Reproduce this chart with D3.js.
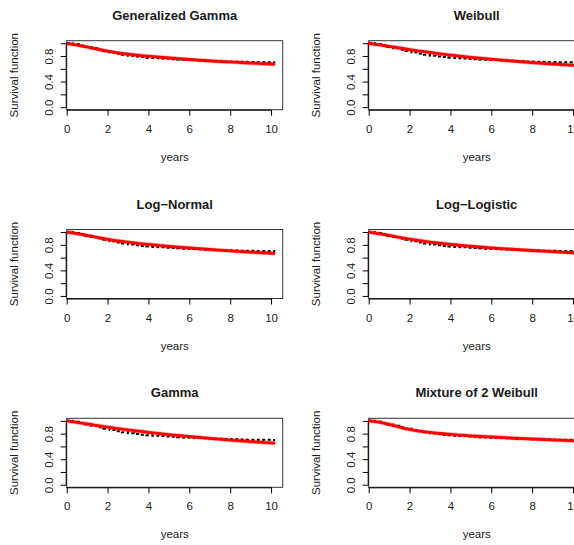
<!DOCTYPE html>
<html>
<head>
<meta charset="utf-8">
<script src="https://cdn.jsdelivr.net/npm/d3@7"></script>
<style>
  html, body { margin: 0; padding: 0; background: #fff; }
  svg { display: block; }
  text { font-family: "Liberation Sans", Arial, Helvetica, sans-serif; fill: #1a1a1a; }
</style>
</head>
<body>
<svg id="chart" width="574" height="545"></svg>
<script>
// ---- data ----
const modelTitles = ["Generalized Gamma", "Weibull", "Log\u2212Normal", "Log\u2212Logistic", "Gamma", "Mixture of 2 Weibull"];

// Kaplan-Meier estimate (black dashed step curve)
const kmTimes = [0, 0.3, 0.6, 0.9, 1.2, 1.5, 1.8, 2.1, 2.4, 2.7, 3.0, 3.3, 3.6, 3.9, 4.2, 4.5, 4.8, 5.1, 5.4, 5.7, 6.0, 6.4, 6.8, 7.2, 7.6, 8.0, 8.4, 8.8, 9.2, 9.6, 10.0, 10.2];
const kmSurv  = [1.0, 0.985, 0.965, 0.943, 0.922, 0.900, 0.878, 0.855, 0.837, 0.820, 0.805, 0.793, 0.783, 0.775, 0.768, 0.762, 0.756, 0.750, 0.745, 0.740, 0.736, 0.730, 0.725, 0.720, 0.716, 0.712, 0.709, 0.706, 0.704, 0.703, 0.702, 0.702];

// fitted survival curves (red)
const fitTimes = [0, 0.5, 1, 1.5, 2, 2.5, 3, 3.5, 4, 5, 6, 7, 8, 9, 10, 10.2];
const fitGenGamma    = [1.0, 0.972, 0.942, 0.907, 0.875, 0.85, 0.83, 0.812, 0.797, 0.770, 0.746, 0.725, 0.707, 0.690, 0.675, 0.672];
const fitWeibull     = [1.0, 0.976, 0.952, 0.926, 0.900, 0.877, 0.856, 0.835, 0.815, 0.780, 0.750, 0.722, 0.697, 0.675, 0.656, 0.652];
const fitLogNormal   = [1.0, 0.976, 0.947, 0.915, 0.886, 0.862, 0.841, 0.822, 0.806, 0.777, 0.751, 0.727, 0.706, 0.686, 0.668, 0.665];
const fitLogLogistic = [1.0, 0.975, 0.947, 0.917, 0.888, 0.865, 0.844, 0.825, 0.808, 0.778, 0.753, 0.731, 0.711, 0.693, 0.676, 0.673];
const fitGamma       = [1.0, 0.976, 0.952, 0.926, 0.901, 0.879, 0.858, 0.838, 0.820, 0.786, 0.755, 0.726, 0.700, 0.676, 0.655, 0.651];
const fitMixWeibull  = [1.0, 0.982, 0.945, 0.903, 0.866, 0.838, 0.818, 0.802, 0.788, 0.766, 0.748, 0.731, 0.716, 0.702, 0.688, 0.686];
const fitSeries = [fitGenGamma, fitWeibull, fitLogNormal, fitLogLogistic, fitGamma, fitMixWeibull];

const xTicks = [0, 2, 4, 6, 8, 10];
const yTicks = [0, 0.2, 0.4, 0.6, 0.8, 1.0];
const yTickLabels = ["0.0", "", "0.4", "", "0.8", ""];
const xLabel = "years";
const yLabel = "Survival function";

// ---- layout ----
const svg = d3.select("#chart");
const boxW = 216, boxH = 69;
const colX = [66.7, 368.7];
const rowTop = [40.7, 229.5, 418.3];

modelTitles.forEach((title, i) => {
  const col = i % 2, row = Math.floor(i / 2);
  const x0 = colX[col], y0 = rowTop[row];
  const g = svg.append("g");

  const x = d3.scaleLinear().domain([0, 10.57]).range([x0, x0 + boxW]);
  const y = d3.scaleLinear().domain([-0.04, 1.04]).range([y0 + boxH, y0]);

  // box
  g.append("rect")
    .attr("x", x0).attr("y", y0).attr("width", boxW).attr("height", boxH)
    .attr("fill", "none").attr("stroke", "#333").attr("stroke-width", 1);

  // x axis
  const xAxis = d3.axisBottom(x).tickValues(xTicks).tickFormat(d3.format("d")).tickSize(6).tickPadding(9);
  const xa = g.append("g").attr("transform", `translate(0,${y0 + boxH})`).call(xAxis);
  xa.select(".domain").attr("d", `M${x(0)},0.5H${x(10)}`).attr("stroke", "#000");
  xa.selectAll(".tick line").attr("stroke", "#000");
  xa.selectAll(".tick text").attr("font-size", 11.5).attr("fill", "#1a1a1a")
    .attr("font-family", '"Liberation Sans", Arial, sans-serif');

  // y axis
  const yAxis = d3.axisLeft(y).tickValues(yTicks).tickFormat((d, k) => yTickLabels[k]).tickSize(6).tickPadding(0);
  const ya = g.append("g").attr("transform", `translate(${x0},0)`).call(yAxis);
  ya.select(".domain").attr("d", `M-0.5,${y(0)}V${y(1)}`).attr("stroke", "#000");
  ya.selectAll(".tick line").attr("stroke", "#000");
  ya.selectAll(".tick text")
    .attr("font-size", 11.5).attr("fill", "#1a1a1a")
    .attr("font-family", '"Liberation Sans", Arial, sans-serif')
    .attr("x", null).attr("dy", null)
    .attr("text-anchor", "middle")
    .attr("transform", "translate(-18,0) rotate(-90)")
    .attr("y", 0).attr("dy", "0.35em");

  // title
  g.append("text")
    .attr("x", x0 + boxW / 2).attr("y", y0 - 21)
    .attr("text-anchor", "middle").attr("font-weight", "bold").attr("font-size", 13)
    .text(title);

  // axis labels
  g.append("text")
    .attr("x", x0 + boxW / 2).attr("y", y0 + boxH + 51)
    .attr("text-anchor", "middle").attr("font-size", 11.5)
    .text(xLabel);
  g.append("text")
    .attr("transform", `translate(${x0 - 49},${y0 + boxH / 2}) rotate(-90)`)
    .attr("text-anchor", "middle").attr("font-size", 11.5)
    .text(yLabel);

  // KM dashed step curve
  const kmLine = d3.line().x((d, k) => x(kmTimes[k])).y(d => y(d)).curve(d3.curveStepAfter);
  g.append("path").attr("d", kmLine(kmSurv))
    .attr("fill", "none").attr("stroke", "#000").attr("stroke-width", 2)
    .attr("stroke-dasharray", "3,2.5");

  // fitted curve
  const fitLine = d3.line().x((d, k) => x(fitTimes[k])).y(d => y(d)).curve(d3.curveMonotoneX);
  g.append("path").attr("d", fitLine(fitSeries[i]))
    .attr("fill", "none").attr("stroke", "rgba(255,0,0,0.3)").attr("stroke-width", 4.2);
  g.append("path").attr("d", fitLine(fitSeries[i]))
    .attr("fill", "none").attr("stroke", "#ff0000").attr("stroke-width", 2.8);
});
</script>
</body>
</html>
